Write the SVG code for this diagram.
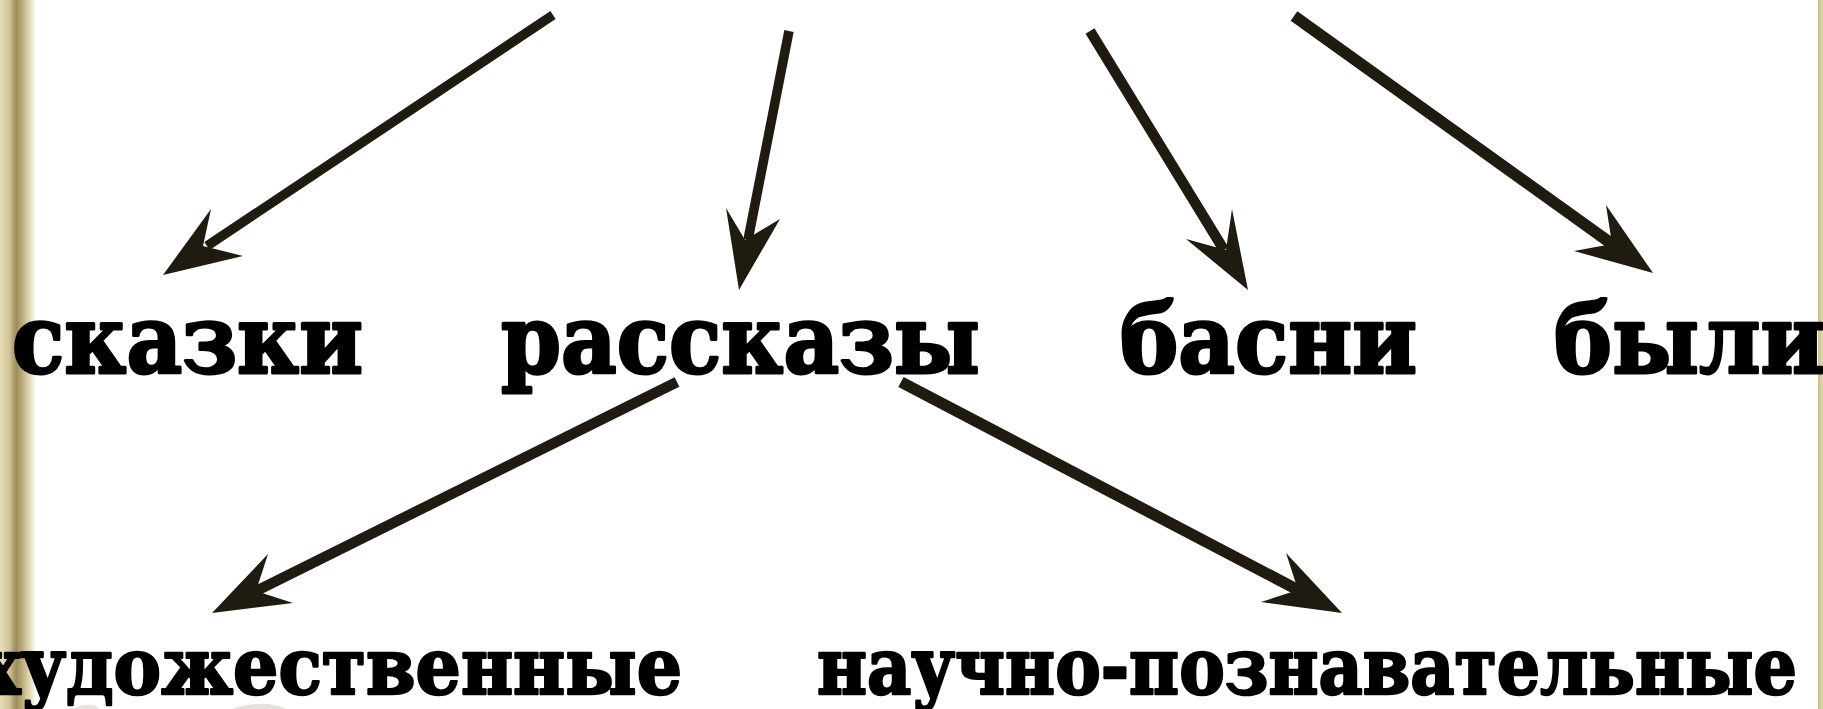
<svg xmlns="http://www.w3.org/2000/svg" width="1823" height="709" viewBox="0 0 1823 709">
  <defs>
    <linearGradient id="leftFrame" x1="0" y1="0" x2="1" y2="0">
      <stop offset="0" stop-color="#e6dcb8"/>
      <stop offset="0.25" stop-color="#d4c698"/>
      <stop offset="0.45" stop-color="#9c8c5c"/>
      <stop offset="0.6" stop-color="#b8a878"/>
      <stop offset="0.8" stop-color="#ddd4b0"/>
      <stop offset="1" stop-color="#ffffff"/>
    </linearGradient>
    <linearGradient id="rightFrame" x1="0" y1="0" x2="1" y2="0">
      <stop offset="0" stop-color="#c9bc8c"/>
      <stop offset="1" stop-color="#e2d8b4"/>
    </linearGradient>
    <style>
      .lbl { font-family: "DejaVu Serif", "Liberation Serif", serif; font-weight: bold; fill: #000; stroke: #000; stroke-linejoin: round; }
      .top { font-size: 95px; stroke-width: 3px; }
      .sub { font-size: 78px; stroke-width: 2.5px; }
      .shaft { stroke: #1f1b10; fill: none; stroke-linecap: butt; }
      .head { fill: #1f1b10; stroke: none; }
    </style>
  </defs>

  <rect x="0" y="0" width="1823" height="709" fill="#ffffff"/>
  <rect x="0" y="0" width="36" height="709" fill="url(#leftFrame)"/>
  <rect x="1818" y="0" width="5" height="709" fill="url(#rightFrame)"/>
  <path d="M72 709 Q82 704 94 705 Q98 707 99 709 Z" fill="#d0c8bc" opacity="0.5"/>
  <path d="M232 709 Q248 703 268 704 Q282 706 286 709 Z" fill="#ccc4b8" opacity="0.5"/>

  <g id="connectors">
    <g id="arrow-skazki">
      <line class="shaft" x1="553" y1="15" x2="207" y2="246" stroke-width="9.5"/>
      <polygon class="head" points="163,275 211,209 203,246 243,256"/>
    </g>
    <g id="arrow-rasskazy">
      <line class="shaft" x1="789" y1="31" x2="748" y2="240" stroke-width="9.5"/>
      <polygon class="head" points="739,290 726,208 745,240 780,219"/>
    </g>
    <g id="arrow-basni">
      <line class="shaft" x1="1090" y1="31" x2="1224" y2="250" stroke-width="10.5"/>
      <polygon class="head" points="1248,290 1186,239 1226,250 1232,209"/>
    </g>
    <g id="arrow-byli">
      <line class="shaft" x1="1294" y1="16" x2="1612" y2="244" stroke-width="11.5"/>
      <polygon class="head" points="1653,273 1574,251 1612,244 1606,205"/>
    </g>
    <g id="arrow-khud">
      <line class="shaft" x1="677" y1="382" x2="256" y2="591" stroke-width="10.5"/>
      <polygon class="head" points="212,613 268,554 256,591 293,603"/>
    </g>
    <g id="arrow-nauch">
      <line class="shaft" x1="901" y1="382" x2="1298" y2="590" stroke-width="11.5"/>
      <polygon class="head" points="1342,613 1286,553 1298,590 1261,602"/>
    </g>
  </g>

  <g id="node-skazki"><text class="lbl top" x="12" y="373" textLength="351" lengthAdjust="spacingAndGlyphs">сказки</text></g>
  <g id="node-rasskazy"><text class="lbl top" x="501" y="373" textLength="479" lengthAdjust="spacingAndGlyphs">рассказы</text></g>
  <g id="node-basni"><text class="lbl top" x="1120" y="373" textLength="297" lengthAdjust="spacingAndGlyphs">басни</text></g>
  <g id="node-byli"><text class="lbl top" x="1554" y="373" textLength="271" lengthAdjust="spacingAndGlyphs">были</text></g>
  <g id="node-khud"><text class="lbl sub" x="-22" y="694" textLength="704" lengthAdjust="spacingAndGlyphs">художественные</text></g>
  <g id="node-nauch"><text class="lbl sub" x="817" y="694" textLength="980" lengthAdjust="spacingAndGlyphs">научно-познавательные</text></g>
</svg>
